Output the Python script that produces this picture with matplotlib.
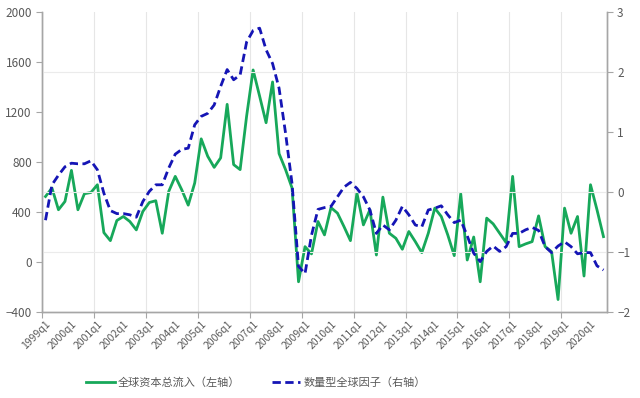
import matplotlib
matplotlib.use("Agg")
import matplotlib.pyplot as plt
import numpy as np

plt.rcParams['font.family'] = ['Noto Sans CJK SC', 'DejaVu Sans']

# quarterly series, 1999q1 .. 2020q3
quarters = [f"{y}q{q}" for y in range(1999, 2021) for q in range(1, 5)][:87]

capital_inflow = [524, 592, 418, 484, 733, 418, 546, 556, 618, 235,
                  171, 332, 364, 324, 257, 404, 476, 490, 230, 565,
                  685, 578, 455, 632, 985, 846, 757, 833, 1261, 779,
                  739, 1167, 1536, 1327, 1114, 1440, 867, 739, 592, -158,
                  123, 65, 324, 217, 435, 391, 284, 171, 551, 297,
                  418, 56, 519, 230, 190, 102, 244, 163, 75, 230,
                  431, 364, 217, 51, 546, 16, 200, -158, 351, 305,
                  230, 155, 685, 123, 145, 163, 369, 123, 83, -300,
                  431, 230, 364, -112, 618, 418, 203]

global_factor = [-0.47, 0.12, 0.28, 0.42, 0.48, 0.47, 0.47, 0.52, 0.37, -0.02,
                 -0.31, -0.36, -0.36, -0.38, -0.42, -0.16, 0.01, 0.12, 0.12, 0.40,
                 0.63, 0.71, 0.73, 1.12, 1.26, 1.31, 1.45, 1.76, 2.04, 1.87,
                 1.95, 2.50, 2.69, 2.73, 2.37, 2.14, 1.73, 0.98, 0.14, -1.24,
                 -1.36, -0.72, -0.29, -0.26, -0.24, -0.08, 0.08, 0.16, 0.06, -0.08,
                 -0.30, -0.69, -0.55, -0.63, -0.47, -0.24, -0.38, -0.55, -0.58, -0.30,
                 -0.27, -0.23, -0.38, -0.51, -0.47, -0.73, -1.02, -1.16, -0.99, -0.90,
                 -0.99, -0.91, -0.69, -0.69, -0.63, -0.59, -0.64, -0.91, -1.01, -0.90,
                 -0.83, -0.91, -1.03, -1.01, -1.01, -1.23, -1.30]

green = '#17A85A'
blue = '#1515B5'
gray = '#A6A6A6'
txt = '#595959'

fig = plt.figure(figsize=(6.4, 3.98), dpi=100)
ax = fig.add_axes([0.066, 0.216, 0.882, 0.754])
ax2 = ax.twinx()

x = np.arange(len(quarters))

# light grid (vertical every 2 years, horizontal on right axis)
for k in range(0, len(quarters) + 1, 8):
    ax.axvline(k - 0.5, color='#E6E6E6', lw=0.8, zorder=0)
for v in [2, 0, -1]:
    ax2.axhline(v, color='#EBEBEB', lw=0.8, zorder=0)

l1, = ax.plot(x, capital_inflow, color=green, lw=2.0, zorder=3,
              label='全球资本总流入（左轴）')
l2, = ax2.plot(x, global_factor, color=blue, lw=2.0, ls=(0, (3, 1.6)), zorder=4,
               label='数量型全球因子（右轴）')

ax.set_xlim(-0.5, len(quarters) - 0.5)
ax.set_ylim(-400, 2000)
ax.set_yticks(range(-400, 2001, 400))
ax2.set_ylim(-2, 3)
ax2.set_yticks(range(-2, 4))

ax.set_xticks(np.arange(-0.5, len(quarters), 8))
ax.set_xticks(x[::4], minor=True)
ax.set_xticklabels([])
ax.set_xticklabels(quarters[::4], minor=True, rotation=45, ha='right',
                   rotation_mode='anchor', fontsize=7.5, color=txt)
ax.tick_params(axis='x', which='major', length=4, color=gray)
ax.tick_params(axis='x', which='minor', length=0, pad=5)
ax.tick_params(axis='y', labelsize=8.5, labelcolor=txt, color=gray, length=4)
ax2.tick_params(axis='y', labelsize=8.5, labelcolor=txt, color=gray, length=4)

for a in (ax, ax2):
    a.spines['top'].set_visible(False)
    for s in ('left', 'right', 'bottom'):
        a.spines[s].set_color(gray)
        a.spines[s].set_linewidth(1.0)

fig.legend(handles=[l1, l2], loc='center', bbox_to_anchor=(0.40, 0.038), ncol=2,
           frameon=False, fontsize=8, handlelength=2.6, handletextpad=0.3,
           columnspacing=2.8, labelcolor=txt)

fig.savefig('out.png', dpi=100, facecolor='white')
